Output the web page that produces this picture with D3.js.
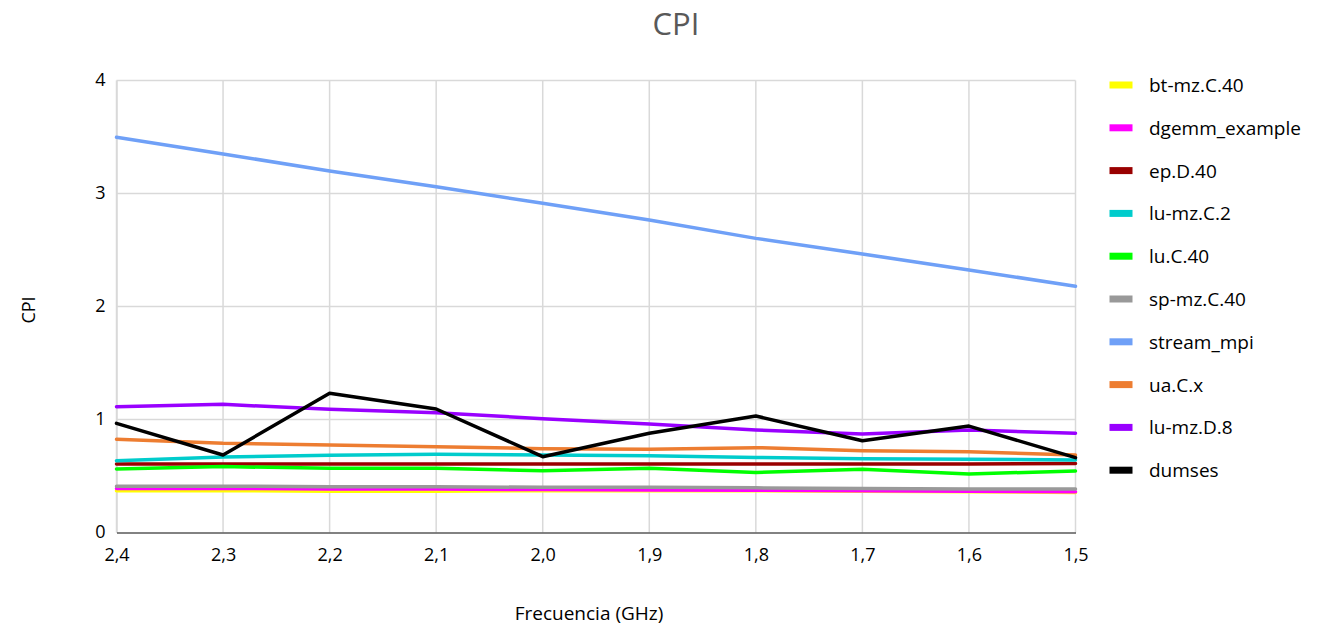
<!DOCTYPE html>
<html>
<head>
<meta charset="utf-8">
<script src="https://cdn.jsdelivr.net/npm/d3@7"></script>
<style>
body{margin:0;background:#fff;}
text{font-family:"Open Sans","Noto Sans",sans-serif;}
</style>
</head>
<body>
<svg id="chart" width="1324" height="625"></svg>
<script>
const categories = ["2,4","2,3","2,2","2,1","2,0","1,9","1,8","1,7","1,6","1,5"];
const seriesNames = ["bt-mz.C.40","dgemm_example","ep.D.40","lu-mz.C.2","lu.C.40","sp-mz.C.40","stream_mpi","ua.C.x","lu-mz.D.8","dumses"];
const seriesColors = ["#ffff00","#ff00ff","#990000","#00cccc","#00ff00","#999999","#6fa0f7","#ed7d31","#9900ff","#000000"];
const btmz = [0.37,0.37,0.365,0.365,0.37,0.37,0.37,0.365,0.36,0.355];
const dgemm = [0.39,0.39,0.385,0.385,0.38,0.375,0.375,0.37,0.365,0.36];
const ep = [0.607,0.607,0.606,0.606,0.606,0.606,0.606,0.607,0.607,0.61];
const lumzC2 = [0.636,0.668,0.684,0.693,0.686,0.68,0.664,0.652,0.648,0.642];
const luC40 = [0.562,0.583,0.568,0.568,0.547,0.568,0.532,0.559,0.518,0.544];
const spmz = [0.41,0.41,0.405,0.405,0.4,0.4,0.395,0.39,0.385,0.385];
const stream = [3.497,3.35,3.20,3.06,2.913,2.765,2.603,2.465,2.323,2.18];
const ua = [0.825,0.789,0.774,0.759,0.742,0.736,0.751,0.724,0.715,0.686];
const lumzD8 = [1.113,1.134,1.09,1.06,1.007,0.96,0.907,0.872,0.907,0.878];
const dumses = [0.966,0.686,1.232,1.093,0.671,0.878,1.031,0.812,0.942,0.662];
const yTicks = [0,1,2,3,4];

const seriesValues = [btmz,dgemm,ep,lumzC2,luC40,spmz,stream,ua,lumzD8,dumses];

const svg = d3.select("#chart");
const pLeft = 116.5, pRight = 1075.5, pTop = 80.5, pBottom = 532.5;

const x = d3.scalePoint().domain(categories).range([pLeft,pRight]);
const y = d3.scaleLinear().domain([0,4]).range([pBottom,pTop]);

// gridlines
svg.append("g").selectAll("line").data(yTicks.filter(d=>d>0)).enter().append("line")
  .attr("x1",pLeft).attr("x2",pRight).attr("y1",d=>y(d)).attr("y2",d=>y(d))
  .attr("stroke","#d9d9d9").attr("stroke-width",1.5);
svg.append("g").selectAll("line").data(categories).enter().append("line")
  .attr("x1",d=>x(d)).attr("x2",d=>x(d)).attr("y1",pTop).attr("y2",pBottom)
  .attr("stroke","#d9d9d9").attr("stroke-width",1.5);

// axes
const yAxis = svg.append("g").attr("transform",`translate(${pLeft},0)`)
  .call(d3.axisLeft(y).tickValues(yTicks).tickSize(0).tickPadding(11).tickFormat(d3.format("d")));
yAxis.select(".domain").attr("stroke","#d9d9d9").attr("stroke-width",1.5);
yAxis.selectAll("text").attr("font-size",18).attr("fill","#000").attr("dy","0.3em");

const xAxis = svg.append("g").attr("transform",`translate(0,${pBottom})`)
  .call(d3.axisBottom(x).tickSize(0).tickPadding(16));
xAxis.select(".domain").attr("stroke","#595959").attr("stroke-width",1.5);
xAxis.selectAll("text").attr("font-size",18).attr("fill","#000").attr("dy","0.72em");

// lines
const line = d3.line().x((d,i)=>x(categories[i])).y(d=>y(d));
seriesValues.forEach((vals,k)=>{
  svg.append("path").datum(vals).attr("d",line)
    .attr("fill","none").attr("stroke",seriesColors[k]).attr("stroke-width",3.5)
    .attr("stroke-linejoin","round").attr("stroke-linecap","round");
});

// titles
svg.append("text").attr("x",676).attr("y",35).attr("text-anchor","middle")
  .attr("font-size",31).attr("fill","#595959").text("CPI");
svg.append("text").attr("transform","translate(35,310) rotate(-90)").attr("text-anchor","middle")
  .attr("font-size",18).attr("fill","#000").text("CPI");
svg.append("text").attr("x",589).attr("y",620).attr("text-anchor","middle")
  .attr("font-size",19).attr("fill","#000").text("Frecuencia (GHz)");

// legend
const lg = svg.append("g");
seriesNames.forEach((n,i)=>{
  const yy = 85 + i*42.8;
  lg.append("rect").attr("x",1109.5).attr("y",yy-3.5).attr("width",23).attr("height",7).attr("fill",seriesColors[i]);
  lg.append("text").attr("x",1149).attr("y",yy+7).attr("font-size",19).attr("fill","#000").text(n);
});
</script>
</body>
</html>
